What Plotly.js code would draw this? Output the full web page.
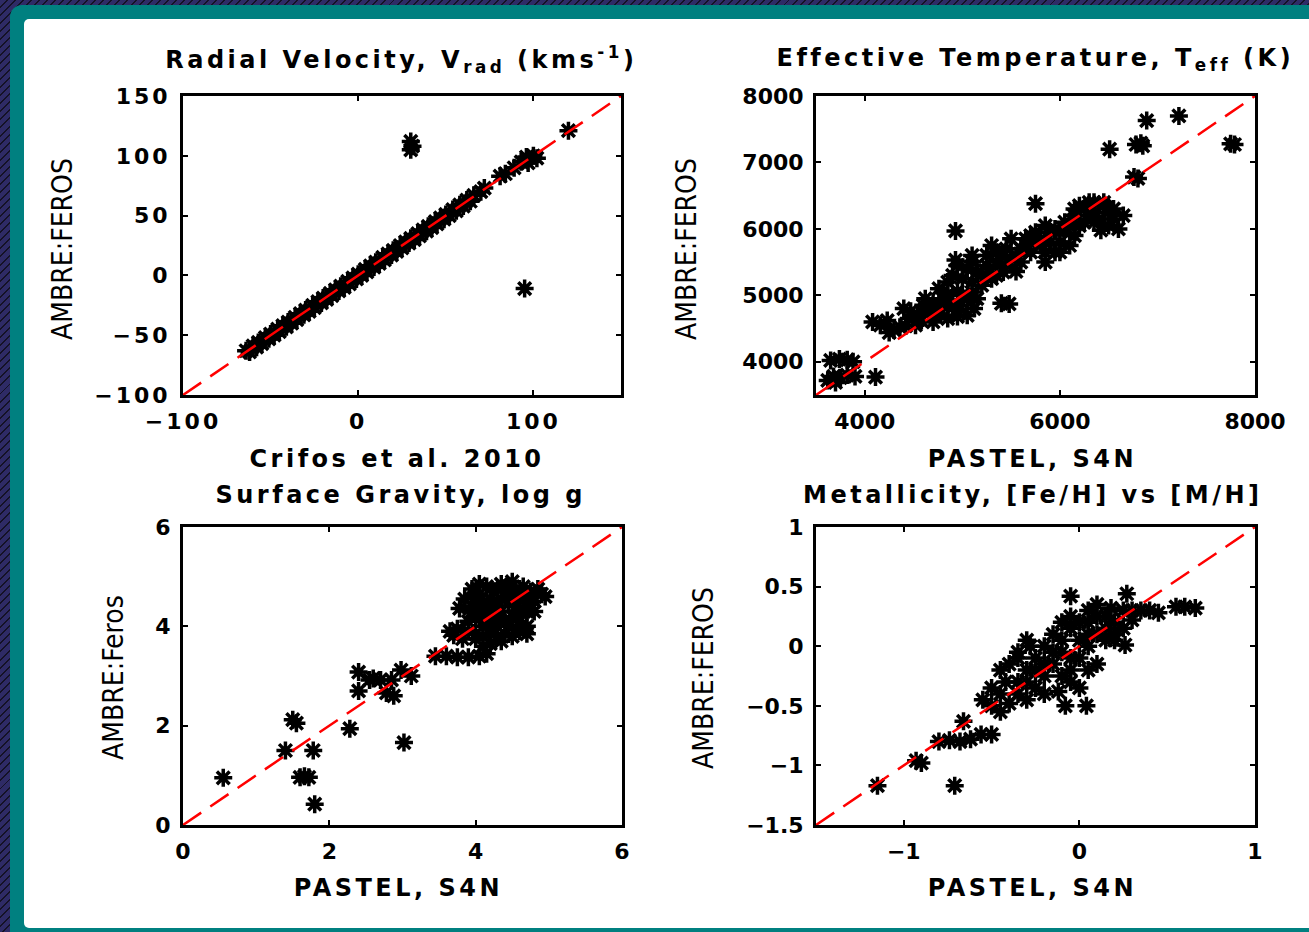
<!DOCTYPE html>
<html>
<head>
<meta charset="utf-8">
<script src="https://cdn.plot.ly/plotly-3.0.1.min.js"></script>
<style>
  html, body { margin:0; padding:0; width:1309px; height:932px; overflow:hidden; }
  body { position:relative;
    background: repeating-linear-gradient(135deg, #2e2b66 0px, #2e2b66 4.3px, #141226 4.3px, #141226 5.7px); }
  #frame { position:absolute; left:10px; top:5px; width:1330px; height:960px; background:#008080; border-radius:12px; }
  #inner { position:absolute; left:24px; top:19px; width:1300px; height:909px; background:#ffffff; border-radius:5px 0 0 5px; }
  #chart { position:absolute; left:0; top:0; width:1309px; height:932px; }
  #chart .xtick text, #chart .ytick text { letter-spacing: 3px; }
  #chart text.annotation-text { letter-spacing: 3.5px; }
  #chart g.annotation[data-index="2"] text,
  #chart g.annotation[data-index="5"] text,
  #chart g.annotation[data-index="8"] text,
  #chart g.annotation[data-index="11"] text { letter-spacing: 0px; }
</style>
</head>
<body>
<div id="frame"></div>
<div id="inner"></div>
<div id="chart"></div>
<script>
// ---------- Data ----------
// Radial velocity: Crifos et al. 2010 (x) vs AMBRE:FEROS (y)
const vradX = [-64,-62,-60,-58,-57,-55,-53,-51,-50,-48,-46,-45,-43,-41,-40,-38,-36,-35,-33,-31,-30,-28,-26,-25,-23,-21,-20,-18,-16,-15,-13,-11,-10,-8,-6,-5,-3,-1,0,2,4,5,7,9,10,12,14,15,17,19,20,22,24,25,27,29,30,32,34,35,37,39,40,42,44,45,47,49,50,52,54,56,58,60,62,64,66,70,72,
  81,84,89,93,96,100,102,97,120,30,30,31,95];
const vradY = [-63,-64,-59,-60,-56,-57,-52,-53,-49,-50,-45,-47,-42,-43,-39,-40,-35,-37,-32,-33,-29,-30,-25,-27,-22,-23,-19,-20,-15,-17,-12,-13,-9,-10,-5,-7,-2,-3,1,0,5,3,8,7,11,10,15,13,18,17,21,20,25,23,28,27,31,30,35,33,38,37,41,40,45,43,48,47,51,50,55,54,59,58,63,62,67,70,73,
  83,85,90,95,99,100,98,94,121,112,105,108,-11];

// Effective temperature: PASTEL, S4N (x) vs AMBRE:FEROS (y)
const teffX = [3620,3680,3750,3820,3900,3700,3650,3740,3820,3880,4110,
  4080,4160,4230,4300,4360,4250,4400,4470,4540,4420,4520,
  4620,4700,4780,4850,4950,5050,5120,4660,4900,4760,4850,4950,5050,4800,5400,5480,
  4900,5000,5100,5200,5300,4950,5050,5150,5250,5350,4930,5100,
  5250,5350,5450,5550,5650,5750,5300,5500,5700,5600,
  5700,5800,5900,6000,5950,5850,5420,5550,
  5850,5950,6050,6150,6100,6000,
  6150,6250,6350,6450,6550,6650,6250,6400,6500,6300,6200,6600,6420,
  4450,4580,4700,4600,4750,4850,4980,5000,5100,5150,5200,5280,5350,5450,5500,5400,5600,5650,5800,5900,
  6000,6050,6100,6200,6300,6350,6500,6550,6450,6350,6150,5750,5850,5100,4850,4700,
  4930,5750,6760,6800,6510,6780,6830,6850,6890,7220,7750,7790];
const teffY = [3720,3780,3760,3800,3780,3690,4020,4040,4030,4000,3770,
  4600,4550,4620,4480,4520,4440,4800,4760,4700,4540,4550,
  4950,4880,4720,4650,4680,4700,4800,4780,4820,5100,5020,5060,4950,4950,4880,4870,
  5300,5250,5200,5150,5250,5450,5400,5350,5450,5300,5530,5600,
  5600,5650,5700,5600,5750,5800,5750,5850,5650,5500,
  5900,5850,5950,5800,5650,5500,5350,5360,
  6050,6000,6100,5900,5750,5650,
  6200,6300,6250,6350,6300,6200,6100,6150,6050,6400,6350,6000,5980,
  4650,4620,4600,4850,4800,4900,4850,5000,5050,4950,5300,5400,5500,5450,5550,5600,5700,5850,5750,5800,
  5950,6000,6050,6050,6200,6100,6250,6150,6400,6400,6300,5950,5650,5500,5200,4700,
  5970,6380,6780,6760,7200,7270,7290,7250,7630,7700,7280,7270];

// Surface gravity: PASTEL, S4N (x) vs AMBRE:Feros (y)
const loggX = [0.55,1.50,1.55,1.40,1.78,1.60,1.72,1.66,1.80,2.28,3.02,
  2.40,2.40,2.55,2.70,2.85,2.98,3.12,2.78,2.88,2.60,
  3.45,3.60,3.75,3.90,4.05,4.15,3.70,3.82,3.78,
  3.65,3.75,3.90,4.00,4.10,4.20,4.35,4.50,4.60,
  3.90,4.00,4.10,4.20,4.30,4.40,4.50,4.60,4.70,
  3.95,4.05,4.15,4.25,4.35,4.45,4.55,4.65,4.80,4.90,
  3.95,4.05,4.15,4.25,4.35,4.45,4.55,4.65,4.75,4.20,4.40,4.10,4.30,4.00,
  4.00,4.10,4.25,4.40,4.55,4.70,3.95,4.10,4.25,4.35,4.50,4.60,4.70,4.75,4.85,4.50,4.30,4.05,4.60,4.45,4.30,4.15,3.85,4.95,4.80,4.70];
const loggY = [0.95,2.12,2.05,1.50,1.50,0.96,0.96,0.98,0.42,1.94,1.66,
  3.08,2.70,2.92,2.92,2.92,3.12,3.00,2.66,2.60,2.95,
  3.40,3.40,3.38,3.38,3.40,3.45,3.82,3.75,4.36,
  3.90,3.95,3.90,3.75,3.60,3.65,3.70,3.80,3.90,
  4.10,4.20,4.00,4.10,4.00,4.10,4.20,4.10,4.30,
  4.40,4.50,4.35,4.45,4.30,4.50,4.40,4.55,4.50,4.65,
  4.75,4.65,4.80,4.70,4.85,4.80,4.75,4.80,4.70,4.55,4.60,4.25,4.20,4.60,
  3.85,3.80,3.85,3.85,3.95,4.00,4.30,4.40,4.30,4.55,4.60,4.65,4.60,4.45,4.75,4.90,4.75,4.85,4.30,4.00,3.80,4.05,4.55,4.60,4.30,3.85];

// Metallicity: PASTEL, S4N [Fe/H] (x) vs AMBRE:FEROS [M/H] (y)
const metX = [-1.15,-0.71,-0.93,-0.90,-0.80,-0.74,-0.68,-0.62,-0.56,-0.50,-0.66,
  -0.55,-0.50,-0.45,-0.40,-0.35,-0.30,-0.25,-0.20,-0.50,-0.42,-0.12,-0.08,0.04,
  -0.40,-0.35,-0.30,-0.25,-0.20,-0.15,-0.10,-0.05,0.00,0.05,0.10,-0.15,-0.30,0.10,0.15,-0.05,0.00,-0.28,
  -0.05,0.05,0.15,0.20,0.25,0.30,0.10,-0.05,0.27,0.35,
  -0.45,-0.35,-0.30,-0.20,-0.10,-0.05,0.00,-0.25,-0.35,-0.15,-0.10,0.00,0.05,0.15,0.20,0.25,0.05,-0.10,0.10,0.30,0.18,-0.05,0.05,-0.20,-0.45,
  0.40,0.45,0.55,0.60,0.66,0.26,0.20];
const metY = [-1.17,-1.17,-0.96,-0.98,-0.80,-0.79,-0.80,-0.78,-0.74,-0.74,-0.63,
  -0.45,-0.50,-0.55,-0.48,-0.40,-0.45,-0.35,-0.40,-0.35,-0.30,-0.38,-0.50,-0.50,
  -0.15,-0.05,-0.20,-0.10,0.00,-0.15,-0.05,-0.20,-0.10,0.00,-0.15,0.10,0.05,0.10,0.05,0.15,0.20,0.00,
  0.25,0.30,0.25,0.20,0.30,0.22,0.35,0.42,0.44,0.30,
  -0.40,-0.30,-0.30,-0.25,-0.25,-0.30,-0.35,-0.20,-0.10,-0.05,0.05,0.05,0.10,0.15,0.10,0.15,0.20,0.20,0.25,0.30,0.32,-0.10,-0.20,-0.15,-0.20,
  0.30,0.28,0.33,0.33,0.32,0.01,0.05];

// One-to-one reference lines
const diagVrad = [-100, 150];
const diagTeff = [3500, 8000];
const diagLogg = [0, 6];
const diagMet = [-1.5, 1];

const panelTitles = ['Radial Velocity, V<sub>rad</sub> (kms<sup>-1</sup>)',
  'Effective Temperature, T<sub>eff</sub> (K)',
  'Surface Gravity, log g',
  'Metallicity, [Fe/H] vs [M/H]'];
const xTitles = ['Crifos et al. 2010', 'PASTEL, S4N', 'PASTEL, S4N', 'PASTEL, S4N'];
const yTitles = ['AMBRE:FEROS', 'AMBRE:FEROS', 'AMBRE:Feros', 'AMBRE:FEROS'];

// ---------- Figure ----------
const W = 1309, H = 932;
const px = v => v / W;
const py = v => 1 - v / H;

const markerStyle = {symbol:'asterisk-open', size:15, color:'black', line:{color:'black', width:3.5}};
const lineStyle = {color:'#ff0000', width:2.5, dash:'22px,11px'};

const sets = [
  [vradX, vradY, diagVrad, 'x', 'y'],
  [teffX, teffY, diagTeff, 'x2', 'y2'],
  [loggX, loggY, diagLogg, 'x3', 'y3'],
  [metX, metY, diagMet, 'x4', 'y4']
];
const traces = [];
sets.forEach(s => {
  traces.push({type:'scatter', mode:'markers', x:s[0], y:s[1], xaxis:s[3], yaxis:s[4], marker:markerStyle, hoverinfo:'skip'});
  traces.push({type:'scatter', mode:'lines', x:s[2], y:s[2], xaxis:s[3], yaxis:s[4], line:lineStyle, hoverinfo:'skip'});
});

const tickFont = {family:'DejaVu Sans, sans-serif', size:22, color:'black', weight:'bold'};
function ax(domain, range, dtick, anchor) {
  return {domain:domain, range:range, dtick:dtick, tick0:0, anchor:anchor,
    showgrid:false, zeroline:false, showline:true, mirror:'ticks', linecolor:'black', linewidth:3,
    ticks:'inside', ticklen:5, tickwidth:2, tickcolor:'black', tickfont:tickFont, fixedrange:true,
    ticklabelstandoff:5};
}

// panel boxes in pixels
const boxes = [
  {l:183, r:621, t:96, b:395},
  {l:816, r:1255, t:96, b:395},
  {l:183, r:622, t:527, b:825},
  {l:816, r:1255, t:527, b:825}
];
const dom = b => ({x:[px(b.l), px(b.r)], y:[py(b.b), py(b.t)]});
const d = boxes.map(dom);

const layout = {
  width:W, height:H, margin:{l:0, r:0, t:0, b:0},
  paper_bgcolor:'rgba(0,0,0,0)', plot_bgcolor:'#ffffff',
  showlegend:false, hovermode:false,
  xaxis: ax(d[0].x, [-100,150], 100, 'y'),
  yaxis: ax(d[0].y, [-100,150], 50, 'x'),
  xaxis2: ax(d[1].x, [3500,8000], 2000, 'y2'),
  yaxis2: ax(d[1].y, [3500,8000], 1000, 'x2'),
  xaxis3: ax(d[2].x, [0,6], 2, 'y3'),
  yaxis3: ax(d[2].y, [0,6], 2, 'x3'),
  xaxis4: ax(d[3].x, [-1.5,1], 1, 'y4'),
  yaxis4: ax(d[3].y, [-1.5,1], 0.5, 'x4'),
  annotations: []
};

const titleFont = {family:'DejaVu Sans, sans-serif', size:24, color:'black', weight:'bold'};
const yTitleFont = {family:'Liberation Sans Narrow, DejaVu Sans Condensed, sans-serif', size:28, color:'black'};
const titlePos = [[401,59],[1035,59],[400,495],[1033,495]];
const xTitlePos = [[397,459],[1032,459],[398,888],[1032,888]];
const yTitlePos = [[62,249],[686,249],[113,678],[703,678]];
for (let i = 0; i < 4; i++) {
  layout.annotations.push({xref:'paper', yref:'paper', x:px(titlePos[i][0]), y:py(titlePos[i][1]),
    xanchor:'center', yanchor:'middle', showarrow:false, text:panelTitles[i], font:titleFont});
  layout.annotations.push({xref:'paper', yref:'paper', x:px(xTitlePos[i][0]), y:py(xTitlePos[i][1]),
    xanchor:'center', yanchor:'middle', showarrow:false, text:xTitles[i], font:titleFont});
  layout.annotations.push({xref:'paper', yref:'paper', x:px(yTitlePos[i][0]), y:py(yTitlePos[i][1]),
    xanchor:'center', yanchor:'middle', showarrow:false, textangle:-90,
    text:yTitles[i], font:yTitleFont});
}

Plotly.newPlot('chart', traces, layout, {staticPlot:true, displayModeBar:false});
</script>
</body>
</html>
